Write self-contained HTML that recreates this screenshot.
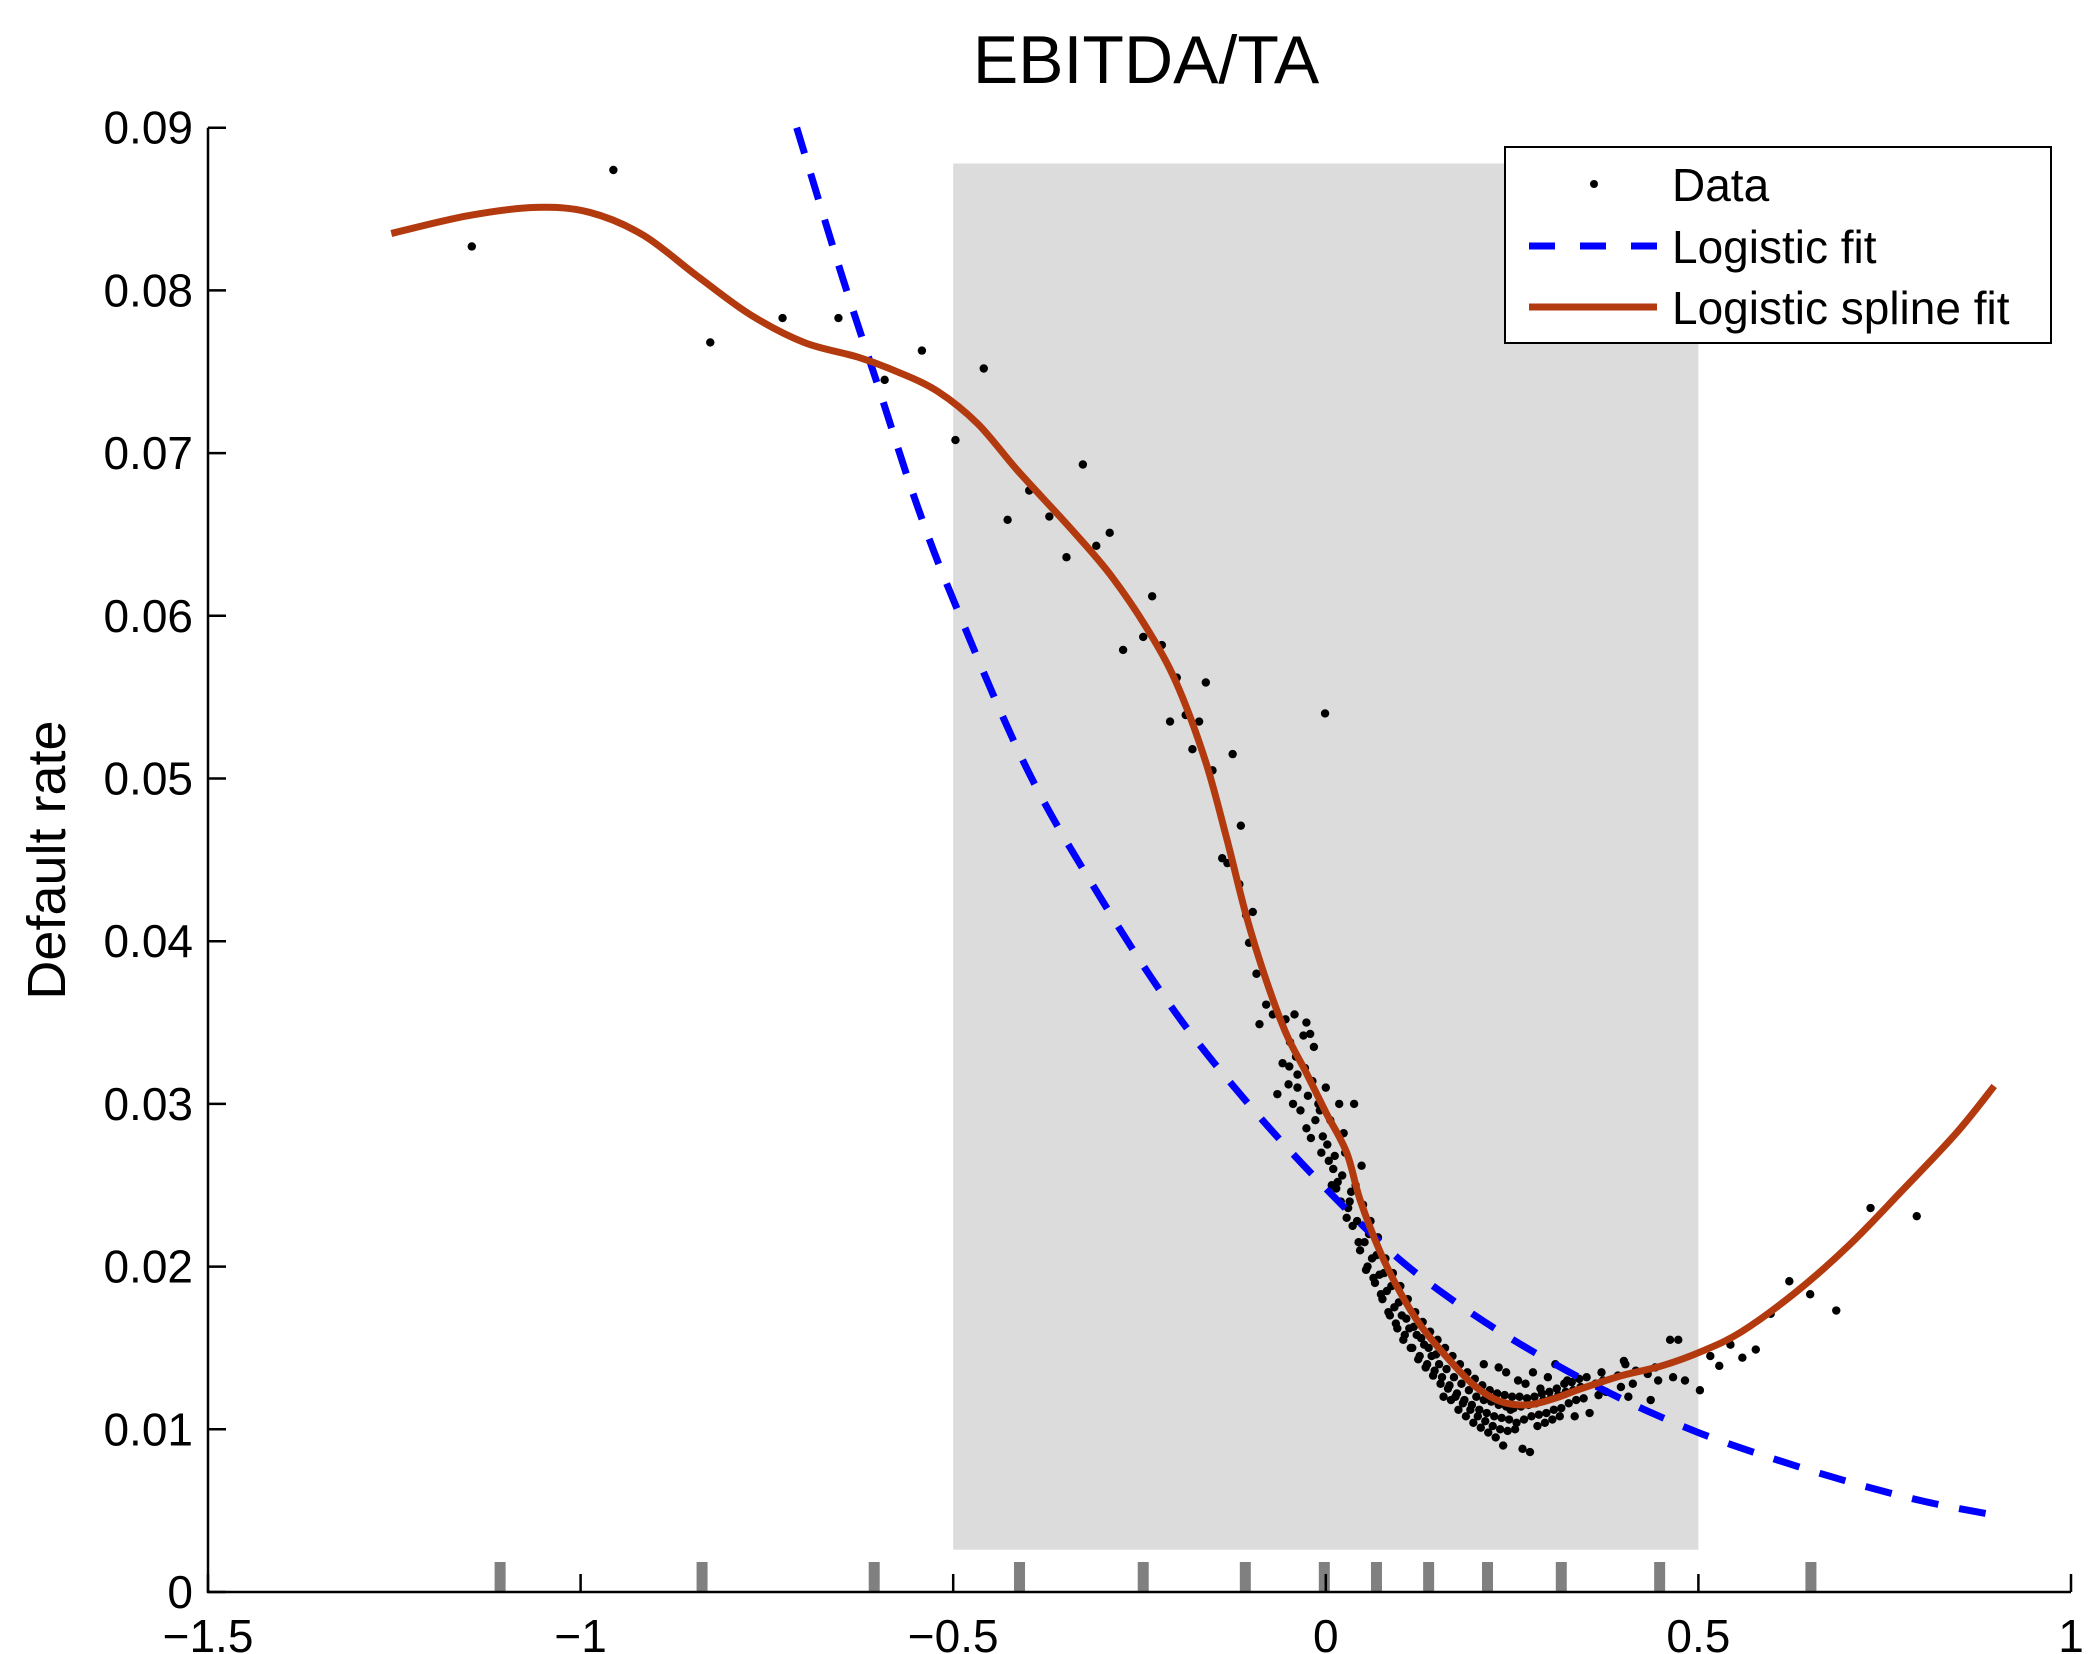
<!DOCTYPE html>
<html><head><meta charset="utf-8"><style>
html,body{margin:0;padding:0;background:#fff;}
svg{display:block;}
text{font-family:"Liberation Sans",Arial,sans-serif;fill:#000;}
</style></head><body>
<svg id="chart" width="2095" height="1654" viewBox="0 0 2095 1654" xmlns="http://www.w3.org/2000/svg">
<rect x="0" y="0" width="2095" height="1654" fill="#fff"/>
<g id="shade"></g>
<g id="rug"></g>
<g id="dots"></g>
<g id="lines"></g>
<g id="axes"></g>
<text x="1146" y="83" font-size="68" text-anchor="middle">EBITDA/TA</text>
<text transform="translate(65,860) rotate(-90)" font-size="54" text-anchor="middle">Default rate</text>
<g>
<rect x="1505" y="147" width="546" height="196" fill="#fff" stroke="#000" stroke-width="2"/>
<circle cx="1594" cy="184" r="4" fill="#000"/>
<text x="1672" y="201" font-size="46">Data</text>
<line x1="1529" y1="246" x2="1657" y2="246" stroke="#0000ff" stroke-width="7" stroke-dasharray="26 25"/>
<text x="1672" y="263" font-size="46">Logistic fit</text>
<line x1="1529" y1="307" x2="1657" y2="307" stroke="#b23a0e" stroke-width="7"/>
<text x="1672" y="324" font-size="46">Logistic spline fit</text>
</g>
</svg>
<script>
const xTicks=[-1.5,-1,-0.5,0,0.5,1];
const xTickLabels=["\u22121.5","\u22121","\u22120.5","0","0.5","1"];
const yTicks=[0,0.01,0.02,0.03,0.04,0.05,0.06,0.07,0.08,0.09];
const yTickLabels=["0","0.01","0.02","0.03","0.04","0.05","0.06","0.07","0.08","0.09"];
const shadeRange=[-0.5,0.5,0.0026,0.0878];
const rugX=[-1.108,-0.837,-0.606,-0.411,-0.245,-0.108,-0.002,0.068,0.138,0.217,0.316,0.448,0.651];
const logitX=[-0.71,-0.65,-0.6,-0.55,-0.5,-0.4,-0.3,-0.2,-0.1,0,0.1,0.2,0.3,0.4,0.5,0.6,0.7,0.8,0.9];
const logitY=[0.090,0.081,0.074,0.067,0.061,0.0505,0.0425,0.0355,0.0298,0.0248,0.0204,0.0170,0.0142,0.0118,0.0098,0.0082,0.0068,0.0056,0.0047];
const splineX=[-1.254,-1.150,-1.060,-0.988,-0.916,-0.844,-0.772,-0.700,-0.628,-0.575,-0.521,-0.467,-0.413,-0.341,-0.287,-0.233,-0.197,-0.161,-0.134,-0.107,-0.080,-0.053,-0.026,0.001,0.028,0.046,0.073,0.100,0.127,0.163,0.199,0.235,0.271,0.307,0.343,0.397,0.451,0.505,0.558,0.630,0.702,0.774,0.846,0.897];
const splineY=[0.0835,0.0846,0.0851,0.0848,0.0834,0.0809,0.0785,0.0768,0.0759,0.0750,0.0738,0.0718,0.0689,0.0653,0.0624,0.0587,0.0555,0.0510,0.0465,0.0416,0.0376,0.0343,0.0319,0.0294,0.0270,0.0241,0.0209,0.0184,0.0164,0.0144,0.0127,0.0117,0.0115,0.0119,0.0125,0.0133,0.0139,0.0148,0.0160,0.0184,0.0213,0.0247,0.0282,0.0311];
const outX=[-1.146,-0.956,-0.826,-0.729,-0.654,-0.592,-0.542,-0.497,-0.459,-0.427,-0.398,-0.371,-0.348,-0.326,-0.308,-0.290,-0.272,-0.245,-0.233,-0.220,-0.200,-0.209,-0.188,-0.179,-0.170,-0.161,-0.152,-0.125,-0.114,-0.139,-0.132,-0.116,-0.107,-0.098,-0.103,-0.093,-0.080,-0.089,-0.071,-0.058,-0.042,-0.026,-0.021,-0.001,-0.065,-0.049,-0.038,0.516,0.543,0.528,0.559,0.577,0.597,0.622,0.650,0.685,0.731,0.793,0.473];
const outY=[0.0827,0.0874,0.0768,0.0783,0.0783,0.0745,0.0763,0.0708,0.0752,0.0659,0.0677,0.0661,0.0636,0.0693,0.0643,0.0651,0.0579,0.0587,0.0612,0.0582,0.0562,0.0535,0.0539,0.0518,0.0535,0.0559,0.0505,0.0515,0.0471,0.0451,0.0448,0.0435,0.0416,0.0418,0.0399,0.0380,0.0361,0.0349,0.0355,0.0351,0.0355,0.0350,0.0343,0.0540,0.0306,0.0323,0.0310,0.0145,0.0152,0.0139,0.0144,0.0149,0.0171,0.0191,0.0183,0.0173,0.0236,0.0231,0.0155];
const clusterX=[-0.05,-0.04,-0.03,-0.02,-0.01,0.00,0.01,0.02,0.03,0.04,0.05,0.06,0.07,0.08,0.09,0.10,0.11,0.12,0.13,0.14,0.15,0.16,0.17,0.18,0.19,0.20,0.21,0.22,0.23,0.24,0.25,0.26,0.27,0.28,0.29,0.30,0.31,0.32,0.33,0.34,0.35,0.37,0.38,0.40,0.41,0.42,0.44,0.45,0.47,0.49,0.51];
const clusterY=[[0.0325,0.0352,0.0312],[0.0338,0.0300,0.0329],[0.0318,0.0296,0.0342,0.0285],[0.0322,0.0305,0.0279,0.0335],[0.0314,0.0290,0.0300,0.0270],[0.0296,0.0280,0.0310,0.0265,0.0250],[0.0275,0.0290,0.0260,0.0248,0.0300],[0.0268,0.0252,0.0240,0.0282,0.0230],[0.0256,0.0270,0.0236,0.0246,0.0300],[0.0240,0.0225,0.0250,0.0215,0.0262],[0.0228,0.0210,0.0238,0.0198,0.0220],[0.0215,0.0200,0.0228,0.0193,0.0207],[0.0205,0.0190,0.0218,0.0183,0.0196],[0.0195,0.0180,0.0205,0.0172,0.0188],[0.0185,0.0170,0.0196,0.0165,0.0178],[0.0175,0.0162,0.0188,0.0155,0.0168],[0.0170,0.0158,0.0180,0.0150,0.0163],[0.0162,0.0150,0.0172,0.0143,0.0156],[0.0158,0.0145,0.0166,0.0138,0.0150],[0.0152,0.0140,0.0160,0.0133,0.0146],[0.0145,0.0136,0.0155,0.0128,0.0120],[0.0140,0.0132,0.0150,0.0125,0.0118],[0.0137,0.0127,0.0145,0.0120,0.0112],[0.0132,0.0122,0.0140,0.0116,0.0108],[0.0128,0.0118,0.0135,0.0112,0.0104],[0.0124,0.0115,0.0131,0.0108,0.0101,0.0140],[0.0120,0.0112,0.0127,0.0105,0.0098],[0.0118,0.0110,0.0124,0.0102,0.0095,0.0138],[0.0117,0.0108,0.0122,0.0100,0.0090,0.0135],[0.0115,0.0107,0.0121,0.0099,0.0112],[0.0114,0.0106,0.0120,0.0100,0.0130],[0.0113,0.0104,0.0120,0.0088,0.0128],[0.0114,0.0106,0.0119,0.0086,0.0135],[0.0115,0.0108,0.0120,0.0102,0.0125],[0.0116,0.0109,0.0122,0.0104,0.0132],[0.0118,0.0110,0.0123,0.0106,0.0140],[0.0119,0.0112,0.0125,0.0108],[0.0121,0.0113,0.0128,0.0130],[0.0123,0.0116,0.0129,0.0108],[0.0124,0.0118,0.0131],[0.0126,0.0119,0.0132,0.0110],[0.0128,0.0121,0.0135],[0.0130,0.0123],[0.0133,0.0126,0.0142],[0.0140,0.0120],[0.0128,0.0136],[0.0134,0.0118],[0.0138,0.0130],[0.0155,0.0132],[0.0130],[0.0124]];

const NS="http://www.w3.org/2000/svg";
const X0=208,X1=2071,XMIN=-1.5,XMAX=1;
const Y0=1592,YPER=16270;
function sx(v){return X0+(v-XMIN)/(XMAX-XMIN)*(X1-X0);}
function sy(v){return Y0-v*YPER;}
function mk(tag,attrs,parent){const e=document.createElementNS(NS,tag);for(const k in attrs)e.setAttribute(k,attrs[k]);parent.appendChild(e);return e;}

const shade=document.getElementById('shade');
const sr=mk('rect',{x:sx(shadeRange[0]),y:sy(shadeRange[3]),width:sx(shadeRange[1])-sx(shadeRange[0]),height:sy(shadeRange[2])-sy(shadeRange[3]),fill:'#dcdcdc'},shade);



const rug=document.getElementById('rug');
rugX.forEach(v=>{
  const r=mk('rect',{x:sx(v)-5.5,y:Y0-30,width:11,height:30,fill:'#808080'},rug);
  
  
});

const dots=document.getElementById('dots');
function dot(x,y){
  const c=mk('circle',{cx:sx(x),cy:sy(y),r:4.2,fill:'#000'},dots);
  
  
}
outX.forEach((x,i)=>dot(x,outY[i]));
clusterX.forEach((x,i)=>clusterY[i].forEach((y,j)=>dot(x+(j-2)*0.004,y)));

const lines=document.getElementById('lines');
function smoothPath(xs,ys){
  const p=xs.map((x,i)=>[sx(x),sy(ys[i])]);
  let d='M'+p[0][0].toFixed(1)+','+p[0][1].toFixed(1);
  for(let i=0;i<p.length-1;i++){
    const p0=p[i-1]||p[i],p1=p[i],p2=p[i+1],p3=p[i+2]||p2;
    const c1=[p1[0]+(p2[0]-p0[0])/6,p1[1]+(p2[1]-p0[1])/6];
    const c2=[p2[0]-(p3[0]-p1[0])/6,p2[1]-(p3[1]-p1[1])/6];
    d+='C'+c1[0].toFixed(1)+','+c1[1].toFixed(1)+' '+c2[0].toFixed(1)+','+c2[1].toFixed(1)+' '+p2[0].toFixed(1)+','+p2[1].toFixed(1);
  }
  return d;
}
const bl=mk('path',{d:smoothPath(logitX,logitY),fill:'none',stroke:'#0000ff','stroke-width':7,'stroke-dasharray':'27 21'},lines);


const rl=mk('path',{d:smoothPath(splineX,splineY),fill:'none',stroke:'#b23a0e','stroke-width':7,'stroke-linejoin':'round'},lines);



const axes=document.getElementById('axes');
const ax=mk('path',{d:`M${X0},${sy(0.09)}V${Y0}H${X1}`,fill:'none',stroke:'#000','stroke-width':2.5},axes);


xTicks.forEach((v,i)=>{
  const t=mk('line',{x1:sx(v),y1:Y0,x2:sx(v),y2:Y0-18,stroke:'#000','stroke-width':2.5},axes);
  
  
  const l=mk('text',{x:sx(v),y:Y0+60,'font-size':46,'text-anchor':'middle'},axes);
  l.textContent=xTickLabels[i];
  
  
});
yTicks.forEach((v,i)=>{
  const t=mk('line',{x1:X0,y1:sy(v),x2:X0+18,y2:sy(v),stroke:'#000','stroke-width':2.5},axes);
  
  
  const l=mk('text',{x:193,y:sy(v)+16,'font-size':46,'text-anchor':'end'},axes);
  l.textContent=yTickLabels[i];
  
  
});
</script>
</body></html>
